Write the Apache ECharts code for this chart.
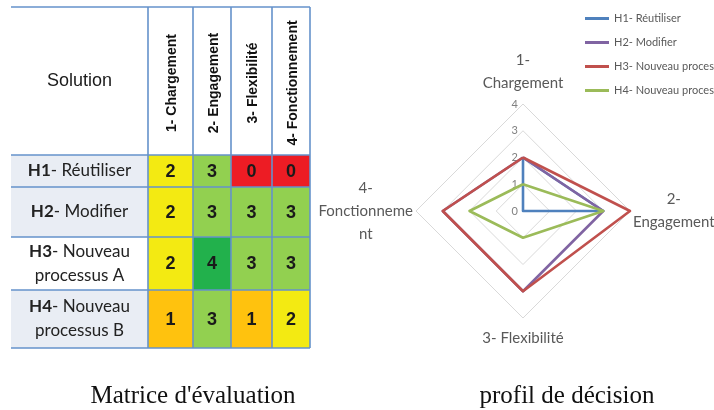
<!DOCTYPE html>
<html><head><meta charset="utf-8">
<script src="https://cdn.jsdelivr.net/npm/echarts@6/dist/echarts.min.js"></script>
<style>html,body{margin:0;padding:0;background:#fff}#c{width:714px;height:410px}</style>
</head><body><div id="c"></div>
<script>
// ---------- data ----------
const criteria = ['1- Chargement', '2- Engagement', '3- Flexibilité', '4- Fonctionnement'];
const radarNames = ['1-\nChargement', '2-\nEngagement', '3- Flexibilité', '4-\nFonctionneme\nnt'];
const solutionCodes = ['H1', 'H2', 'H3', 'H4'];
const solutionNames = ['Réutiliser', 'Modifier', 'Nouveau processus A', 'Nouveau processus B'];
const scoresH1 = [2, 3, 0, 0];
const scoresH2 = [2, 3, 3, 3];
const scoresH3 = [2, 4, 3, 3];
const scoresH4 = [1, 3, 1, 2];
const radarTicks = [0, 1, 2, 3, 4];
const headerTitle = 'Solution';
const captionLeft = "Matrice d'évaluation";
const captionRight = 'profil de décision';

// ---------- layout / style ----------
const colEdges = [0, 137, 182, 220, 261, 299];
const rowEdges = [0, 148, 180, 230, 283, 341];
const scoreColors = ['#ED1C24', '#FFC20E', '#F3EA12', '#92D050', '#22B14C'];
const rowFills = ['#E9EDF4', '#E9EDF4', '#FFFFFF', '#E9EDF4'];
const seriesColors = ['#4F81BD', '#8064A2', '#C0504D', '#9BBB59'];
const ruleColor = '#6592CB';
const rowFont = { size: 17, family: 'Lato' };
const rowTextMax = 122;
const scoreRows = [scoresH1, scoresH2, scoresH3, scoresH4];
const legendNames = solutionCodes.map((c, i) => c + '- ' + solutionNames[i]);

const measureCtx = document.createElement('canvas').getContext('2d');
function textWidth(t, weight) {
  measureCtx.font = (weight || '') + ' ' + rowFont.size + 'px ' + rowFont.family;
  return measureCtx.measureText(t).width;
}
// rich label for a row header, wrapped after the first word when it is too wide
function rowLabel(i) {
  const code = solutionCodes[i];
  const rest = '- ' + solutionNames[i];
  const full = textWidth(code, 'bold') + textWidth(rest);
  if (full <= rowTextMax) return '{b|' + code + '}{n|' + rest + '}';
  const words = solutionNames[i].split(' ');
  return '{b|' + code + '}{n|- ' + words[0] + '}\n{n|' + words.slice(1).join(' ') + '}';
}

function box(api, c, r) {
  const p0 = api.coord([colEdges[c], rowEdges[r]]);
  const p1 = api.coord([colEdges[c + 1], rowEdges[r + 1]]);
  return { x: p0[0], y: p0[1], width: p1[0] - p0[0], height: p1[1] - p0[1] };
}

const cellData = [];
scoreRows.forEach((row, i) => row.forEach((v, j) => cellData.push([j + 1, i + 1, v])));
const headerData = [[0, 0]].concat(criteria.map((t, j) => [j + 1, 0]));
const rowHeaderData = solutionCodes.map((s, i) => [0, i + 1]);
const hRuleData = rowEdges.map((e, i) => [0, i]);
const vRuleData = colEdges.slice(1).map((e, j) => [j + 1, 0]);

// radar: ECharts places indicators counter-clockwise, reference is clockwise
const order = [0, 3, 2, 1];
const lastTick = radarTicks[radarTicks.length - 1];
const indicator = order.map((k, n) => {
  const o = { name: radarNames[k], min: radarTicks[0], max: lastTick };
  if (n === 0) o.axisLabel = { show: true };
  o.nameGap = (k === 0 || k === 2) ? 9 : 3;
  return o;
});

const chart = echarts.init(document.getElementById('c'));
chart.setOption({
  animation: false,
  grid: { left: 11, top: 7, width: 299, height: 341, show: false },
  xAxis: { type: 'value', min: colEdges[0], max: colEdges[colEdges.length - 1], show: false },
  yAxis: { type: 'value', min: rowEdges[0], max: rowEdges[rowEdges.length - 1], inverse: true, show: false },
  legend: {
    orient: 'vertical', left: 580, top: 8, itemWidth: 24, itemHeight: 3, itemGap: 13,
    icon: 'rect', selectedMode: false, data: legendNames,
    textStyle: { fontSize: 11, color: '#595959', fontFamily: 'Lato' }
  },
  radar: {
    center: [523, 211], radius: 107, startAngle: 90, shape: 'polygon', splitNumber: 4,
    indicator: indicator,
    axisName: {
      formatter: (name) => name.split('\n').map(l => '{a|' + l + '}').join('\n'),
      rich: { a: { align: 'center', fontSize: 15, fontFamily: 'Lato', color: '#595959', lineHeight: 23 } }
    },
    axisLine: { show: false },
    axisTick: { show: false },
    splitArea: { show: false },
    splitLine: { lineStyle: { color: '#D9D9D9', width: 1 } },
    axisLabel: { show: false, color: '#808080', fontSize: 11, fontFamily: 'Lato', margin: 5 }
  },
  graphic: [
    { type: 'text', x: 193, y: 396, style: { text: captionLeft, align: 'center', verticalAlign: 'middle', font: '25px "Liberation Serif"', fill: '#111' } },
    { type: 'text', x: 567, y: 396, style: { text: captionRight, align: 'center', verticalAlign: 'middle', font: '25px "Liberation Serif"', fill: '#111' } }
  ],
  series: [
    {
      type: 'custom', name: 'header', coordinateSystem: 'cartesian2d', data: headerData, silent: true,
      renderItem: (params, api) => {
        const c = api.value(0), r = api.value(1);
        const b = box(api, c, r);
        const cx = b.x + b.width / 2, cy = b.y + b.height / 2;
        const children = [{ type: 'rect', shape: b, style: { fill: '#FFFFFF' } }];
        if (c === 0) {
          children.push({ type: 'text', x: cx, y: cy, style: { text: headerTitle, align: 'center', verticalAlign: 'middle', font: '18px "Liberation Sans"', fill: '#1a1a1a' } });
        } else {
          children.push({ type: 'text', x: cx + 2, y: cy + 2, rotation: Math.PI / 2, style: { text: criteria[c - 1], align: 'center', verticalAlign: 'middle', font: 'bold 14px "Liberation Sans"', fill: '#111' } });
        }
        return { type: 'group', children: children };
      }
    },
    {
      type: 'custom', name: 'rows', coordinateSystem: 'cartesian2d', data: rowHeaderData, silent: true,
      renderItem: (params, api) => {
        const c = api.value(0), r = api.value(1);
        const b = box(api, c, r);
        const i = r - 1;
        const base = { fontSize: rowFont.size, fontFamily: rowFont.family, fill: '#222', lineHeight: 24 };
        return { type: 'group', children: [
          { type: 'rect', shape: b, style: { fill: rowFills[i] } },
          { type: 'text', x: b.x + b.width / 2, y: b.y + b.height / 2, style: {
            text: rowLabel(i), align: 'center', verticalAlign: 'middle',
            fontSize: rowFont.size, fontFamily: rowFont.family, fill: '#222', lineHeight: 24,
            rich: { b: Object.assign({ fontWeight: 'bold' }, base), n: Object.assign({}, base) }
          } }
        ] };
      }
    },
    {
      type: 'custom', name: 'cells', coordinateSystem: 'cartesian2d', data: cellData, silent: true,
      renderItem: (params, api) => {
        const c = api.value(0), r = api.value(1), v = api.value(2);
        const b = box(api, c, r);
        return { type: 'group', children: [
          { type: 'rect', shape: b, style: { fill: scoreColors[v] } },
          { type: 'text', x: b.x + b.width / 2, y: b.y + b.height / 2 + 1, style: { text: String(v), align: 'center', verticalAlign: 'middle', font: 'bold 18px "Liberation Sans"', fill: '#1a1a1a' } }
        ] };
      }
    },
    {
      type: 'custom', name: 'hrules', coordinateSystem: 'cartesian2d', data: hRuleData, silent: true, z: 5,
      renderItem: (params, api) => {
        const r = api.value(1);
        const p0 = api.coord([colEdges[0], rowEdges[r]]);
        const p1 = api.coord([colEdges[colEdges.length - 1], rowEdges[r]]);
        return { type: 'line', shape: { x1: p0[0], y1: p0[1], x2: p1[0], y2: p1[1] }, style: { stroke: ruleColor, lineWidth: 1.6 } };
      }
    },
    {
      type: 'custom', name: 'vrules', coordinateSystem: 'cartesian2d', data: vRuleData, silent: true, z: 5,
      renderItem: (params, api) => {
        const c = api.value(0);
        const p0 = api.coord([colEdges[c], rowEdges[0]]);
        const p1 = api.coord([colEdges[c], rowEdges[rowEdges.length - 1]]);
        return { type: 'line', shape: { x1: p0[0], y1: p0[1], x2: p1[0], y2: p1[1] }, style: { stroke: ruleColor, lineWidth: 1.6 } };
      }
    },
    {
      type: 'radar', symbol: 'none', silent: true,
      data: scoreRows.map((row, i) => ({
        name: legendNames[i],
        value: order.map(k => row[k]),
        itemStyle: { color: seriesColors[i] },
        lineStyle: { color: seriesColors[i], width: 2.6 }
      }))
    }
  ]
});
</script></body></html>
